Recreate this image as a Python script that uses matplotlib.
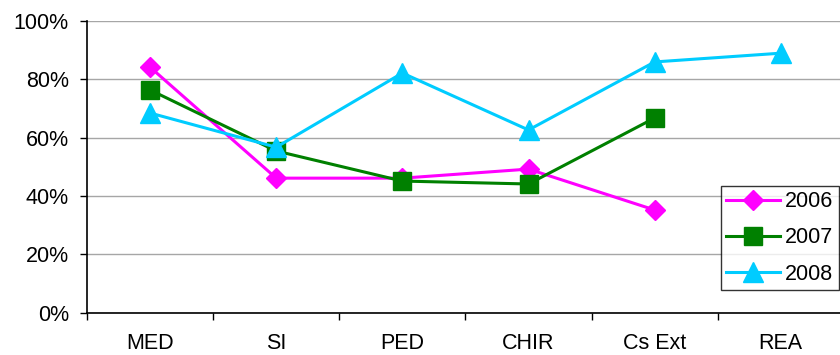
import matplotlib
matplotlib.use('Agg')
import matplotlib.pyplot as plt
import numpy as np

plt.rcParams['font.family'] = ['Liberation Sans', 'DejaVu Sans']

categories = ['MED', 'SI', 'PED', 'CHIR', 'Cs Ext', 'REA']
v2006 = [84.1, 46.1, 46.1, 49.2, 35.2]
v2007 = [76.3, 55.4, 45.1, 44.1, 66.7]
v2008 = [68.4, 56.7, 82.1, 62.6, 85.9, 88.9]
yticks = [0, 20, 40, 60, 80, 100]

fig = plt.figure(figsize=(8.4, 3.55), dpi=100)
ax = fig.add_axes([0.1036, 0.119, 0.901, 0.8225])

x = np.arange(len(categories))
ax.plot(x[:len(v2006)], v2006, color='#FF00FF', lw=2.2, marker='D', ms=10.5, label='2006')
ax.plot(x[:len(v2007)], v2007, color='#008000', lw=2.2, marker='s', ms=12.5, label='2007')
ax.plot(x[:len(v2008)], v2008, color='#00CCFF', lw=2.2, marker='^', ms=14, label='2008')

ax.set_xlim(-0.5, len(categories) - 0.5)
ax.set_ylim(0, 100)
ax.set_yticks(yticks)
ax.set_yticklabels([f'{t}%' for t in yticks], fontsize=15.5)
ax.yaxis.grid(True, color='#A6A6A6', lw=1)
ax.set_axisbelow(True)

ax.set_xticks(np.arange(-0.5, len(categories), 1))
ax.set_xticklabels([])
ax.set_xticks(x, minor=True)
ax.set_xticklabels(categories, minor=True, fontsize=15.5)
ax.tick_params(axis='x', which='major', length=5, direction='out', width=1)
ax.tick_params(axis='x', which='minor', length=0, pad=14.5)
ax.tick_params(axis='y', length=5, width=1, pad=8)

for s in ['top', 'right']:
    ax.spines[s].set_visible(False)
ax.spines['left'].set_linewidth(1.2)
ax.spines['bottom'].set_linewidth(1.2)

leg = fig.legend(loc='upper left', bbox_to_anchor=(0.858, 0.476), fontsize=15.5,
                 frameon=True, fancybox=False, edgecolor='black',
                 handlelength=2.5, borderpad=0.25, labelspacing=0.7,
                 handletextpad=0.25, borderaxespad=0)
leg.get_frame().set_linewidth(1)

fig.savefig('out.png', dpi=100)
